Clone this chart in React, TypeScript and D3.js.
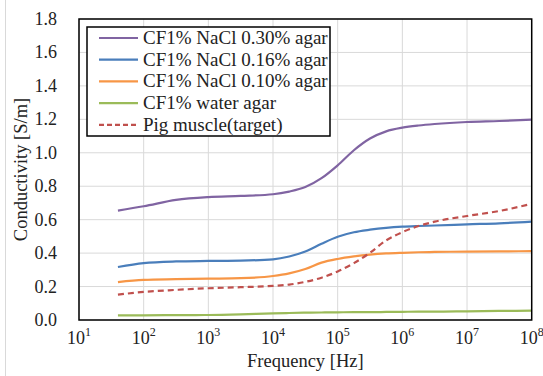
import React from "react";
import * as d3 from "d3";

// frequency points (Hz) shared by every curve
const freq = [40, 100, 316, 1000, 3162, 1e4, 1.78e4, 3.16e4, 5.62e4, 1e5, 1.78e5, 3.16e5, 5.62e5, 1e6, 1.78e6, 3.16e6, 1e7, 3.16e7, 1e8];

const nacl030 = [0.654, 0.68, 0.718, 0.735, 0.742, 0.752, 0.768, 0.795, 0.848, 0.925, 1.015, 1.085, 1.128, 1.15, 1.163, 1.172, 1.184, 1.19, 1.198];
const nacl016 = [0.317, 0.34, 0.35, 0.353, 0.355, 0.363, 0.38, 0.41, 0.456, 0.498, 0.525, 0.54, 0.551, 0.558, 0.562, 0.565, 0.572, 0.578, 0.588];
const nacl010 = [0.227, 0.24, 0.244, 0.247, 0.25, 0.263, 0.279, 0.305, 0.343, 0.365, 0.38, 0.391, 0.398, 0.402, 0.405, 0.407, 0.409, 0.41, 0.412];
const water = [0.028, 0.028, 0.029, 0.03, 0.034, 0.04, 0.042, 0.044, 0.045, 0.046, 0.047, 0.047, 0.048, 0.049, 0.05, 0.05, 0.052, 0.054, 0.056];
const pigMuscle = [0.152, 0.168, 0.18, 0.19, 0.196, 0.204, 0.212, 0.228, 0.253, 0.29, 0.34, 0.402, 0.476, 0.525, 0.562, 0.588, 0.622, 0.652, 0.695];

const seriesNames = [
  "CF1% NaCl 0.30% agar",
  "CF1% NaCl 0.16% agar",
  "CF1% NaCl 0.10% agar",
  "CF1% water agar",
  "Pig muscle(target)",
];
const seriesValues = [nacl030, nacl016, nacl010, water, pigMuscle];
const colors = ["#8064A2", "#4A7EBB", "#F79646", "#9BBB59", "#C0504D"];

const yTicks = [0, 0.2, 0.4, 0.6, 0.8, 1.0, 1.2, 1.4, 1.6, 1.8];
const xExponents = [1, 2, 3, 4, 5, 6, 7, 8];

const W = 543;
const H = 376;
const margin = { top: 19, right: 11.3, bottom: 56, left: 79 };
const font = '"Liberation Serif", "Times New Roman", Times, serif';

export default function App() {
  const x = d3
    .scaleLog()
    .domain([10, 1e8])
    .range([margin.left, W - margin.right]);
  const y = d3
    .scaleLinear()
    .domain([0, 1.8])
    .range([H - margin.bottom, margin.top]);

  const line = d3
    .line<number>()
    .x((_, i) => x(freq[i]))
    .y((d) => y(d))
    .curve(d3.curveMonotoneX);

  const left = margin.left;
  const right = W - margin.right;
  const top = margin.top;
  const bottom = H - margin.bottom;

  // legend box
  const lg = { x: 87, y: 27, w: 243, h: 109, row: 21.7 };
  const txt = { fontFamily: font, fill: "#222" };

  return (
    <svg
      width={W}
      height={H}
      style={{ position: "absolute", left: 0, top: 0, background: "#fff", fontFamily: font }}
    >
      <line x1={5.5} x2={5.5} y1={0} y2={H} stroke="#d9d9d9" />

      {/* grid */}
      {yTicks.map((t) => (
        <line key={"gy" + t} x1={left} x2={right} y1={y(t)} y2={y(t)} stroke="#d9d9d9" strokeWidth={1} />
      ))}
      {xExponents.map((e) => (
        <line key={"gx" + e} x1={x(10 ** e)} x2={x(10 ** e)} y1={top} y2={bottom} stroke="#d9d9d9" strokeWidth={1} />
      ))}

      {/* series */}
      {seriesValues.map((vals, i) => (
        <path
          key={seriesNames[i]}
          d={line(vals) || ""}
          fill="none"
          stroke={colors[i]}
          strokeWidth={2.2}
          strokeDasharray={i === 4 ? "6,4" : undefined}
        />
      ))}

      {/* frame */}
      <rect x={left} y={top} width={right - left} height={bottom - top} fill="none" stroke="#000" strokeWidth={1.5} />

      {/* y tick labels */}
      {yTicks.map((t) => (
        <text key={"ty" + t} x={57} y={y(t) + 6} textAnchor="end" fontSize={18} style={txt}>
          {t.toFixed(1)}
        </text>
      ))}

      {/* x tick labels */}
      {xExponents.map((e) => (
        <text key={"tx" + e} x={x(10 ** e)} y={344} textAnchor="middle" fontSize={18} style={txt}>
          10
          <tspan fontSize={12} dy={-8}>
            {e}
          </tspan>
        </text>
      ))}

      {/* axis titles */}
      <text x={(left + right) / 2} y={367} textAnchor="middle" fontSize={18.5} style={txt}>
        Frequency [Hz]
      </text>
      <text
        transform={`translate(27,${(top + bottom) / 2}) rotate(-90)`}
        textAnchor="middle"
        fontSize={18.5}
        style={txt}
      >
        Conductivity [S/m]
      </text>

      {/* legend */}
      <rect x={lg.x} y={lg.y} width={lg.w} height={lg.h} fill="#fff" stroke="#000" strokeWidth={1.5} />
      {seriesNames.map((name, i) => {
        const cy = lg.y + 11 + i * lg.row;
        return (
          <g key={"lg" + name}>
            <line
              x1={99}
              x2={138}
              y1={cy}
              y2={cy}
              stroke={colors[i]}
              strokeWidth={2.2}
              strokeDasharray={i === 4 ? "5,3" : undefined}
            />
            <text x={143} y={cy + 6} fontSize={19} style={txt}>
              {name}
            </text>
          </g>
        );
      })}
    </svg>
  );
}
